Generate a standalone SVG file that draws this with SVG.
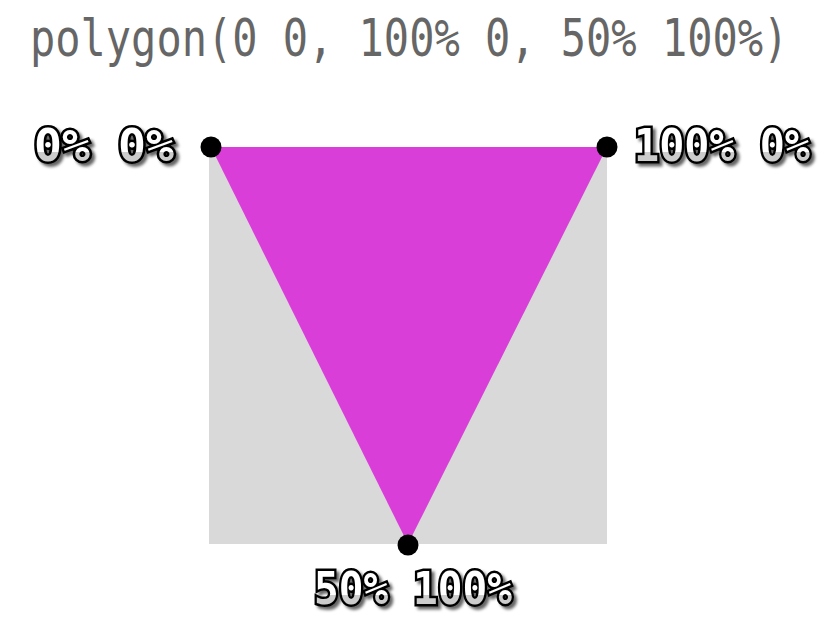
<svg xmlns="http://www.w3.org/2000/svg" width="827" height="630" viewBox="0 0 827 630">
<style>
.title{font-family:"DejaVu Sans Mono","Liberation Mono",monospace;font-size:42px;fill:#666666}
.lbl{font-family:"DejaVu Sans Mono","DejaVu Sans",sans-serif;font-weight:bold;font-size:44px;fill:url(#lg);stroke:#000;stroke-width:5;stroke-linejoin:miter;paint-order:stroke;filter:url(#sh)}
.pt{fill:#000}
</style>
<defs>
<linearGradient id="lg" x1="0" y1="0" x2="0" y2="1">
<stop offset="0" stop-color="#ffffff"/>
<stop offset="0.62" stop-color="#ffffff"/>
<stop offset="0.62" stop-color="#cccccc"/>
<stop offset="1" stop-color="#cccccc"/>
</linearGradient>
<filter id="sh" x="-20%" y="-50%" width="140%" height="200%">
<feDropShadow dx="3" dy="3" stdDeviation="1.5" flood-color="#000" flood-opacity="0.6"/>
</filter>
</defs>
<rect width="827" height="630" fill="#ffffff"/>
<text class="title" transform="translate(30,56) scale(1,1.22)" x="0" y="0">polygon(0 0, 100% 0, 50% 100%)</text>
<g id="box">
<rect x="209" y="147" width="398" height="397" fill="#d9d9d9"/>
<polygon points="211,147 607,147 408,544" fill="#d93ed9"/>
</g>
<g id="p1"><circle class="pt" cx="211" cy="147" r="10.5"/><text class="lbl" x="34" y="161" textLength="140" lengthAdjust="spacingAndGlyphs">0% 0%</text></g>
<g id="p2"><circle class="pt" cx="607" cy="147" r="10.5"/><text class="lbl" x="634" y="161" textLength="176" lengthAdjust="spacingAndGlyphs">100% 0%</text></g>
<g id="p3"><circle class="pt" cx="408" cy="545" r="10.5"/><text class="lbl" x="314" y="604" textLength="198" lengthAdjust="spacingAndGlyphs">50% 100%</text></g>
<g id="connectors"></g>
</svg>
